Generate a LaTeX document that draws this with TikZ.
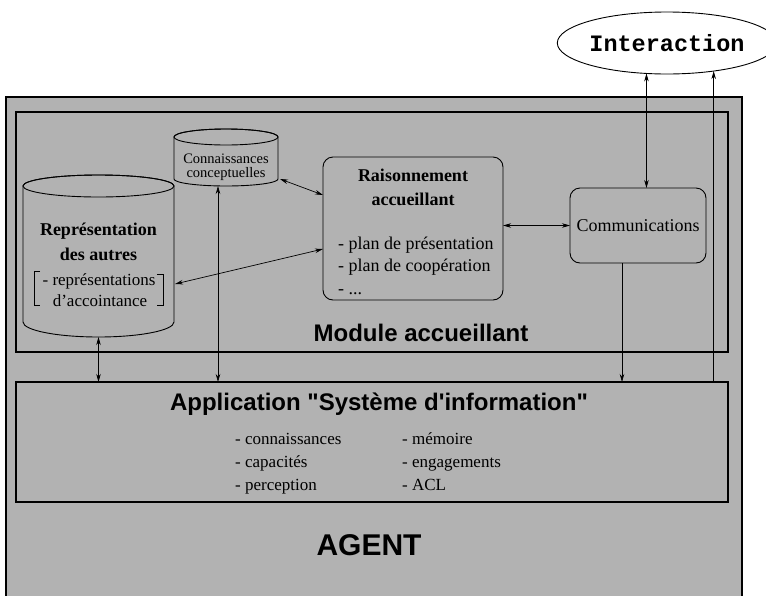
\documentclass[tikz,border=0pt]{standalone}
\usepackage{fontspec}
\setmainfont{Liberation Serif}
\newfontfamily\hvfont{Liberation Sans}
\newfontfamily\courfont{Liberation Mono}
\usetikzlibrary{arrows.meta,calc,shapes.geometric}
\definecolor{dith}{RGB}{178,178,178}
\begin{document}
\begin{tikzpicture}[x=1pt,y=-1pt,
  box/.style={draw, line width=1.1pt, fill=dith, inner sep=0pt, outer sep=0pt},
  rbox/.style={draw, line width=0.9pt, fill=dith, rounded corners=10pt, inner sep=0pt, outer sep=0pt},
  helper/.style={inner sep=0pt, outer sep=0pt},
  cyl/.style={draw, line width=0.9pt, fill=dith},
  conn/.style={line width=0.7pt},
  tip/.tip={Stealth[length=8pt,width=4.5pt]},
  arr/.style={conn, -tip},
  darr/.style={conn, tip-tip},
  ser/.style={font=\fontsize{18}{20}\selectfont},
  sers/.style={font=\fontsize{17}{19}\selectfont},
  serb/.style={font=\bfseries\fontsize{18}{20}\selectfont},
  item/.style={anchor=base west, inner sep=0pt},
  big/.style={font=\hvfont\bfseries\fontsize{24}{26}\selectfont}
]
\useasboundingbox (0,0) rectangle (766,595);
\clip (0,0) rectangle (766,595);

% main boxes
\node[box, line width=1.3pt, anchor=north west, minimum width=736pt, minimum height=520pt] (agent) at (6,97) {};
\node[box, anchor=north west, minimum width=712pt, minimum height=240pt] (module) at (16,112) {};
\node[box, anchor=north west, minimum width=712pt, minimum height=120pt] (app) at (16,382) {};

% interaction
\node[draw, ellipse, line width=0.9pt, fill=white, inner sep=0pt, outer sep=0pt,
      minimum width=192pt, minimum height=62pt,
      font=\courfont\bfseries\fontsize{23.5}{25}\selectfont] (inter) at (667,43) {Interaction};
\coordinate (i1) at (inter.-124.5);
\coordinate (i2) at (inter.-31.8);

% big cylinder
\node[helper, anchor=north west, minimum width=151pt, minimum height=136pt] (bcyl) at (23,186) {};
\draw[cyl] (bcyl.north west) -- (bcyl.south west)
   arc[start angle=180, end angle=0, x radius=75.5, y radius=15]
   -- (bcyl.north east)
   arc[start angle=0, end angle=-180, x radius=75.5, y radius=11] -- cycle;
\draw[line width=0.9pt] (bcyl.north) ellipse[x radius=75.5, y radius=11];

% small cylinder
\node[helper, anchor=north west, minimum width=104pt, minimum height=42pt] (ccyl) at (174,137) {};
\draw[cyl] (ccyl.north west) -- (ccyl.south west)
   arc[start angle=180, end angle=0, x radius=52, y radius=7]
   -- (ccyl.north east)
   arc[start angle=0, end angle=-180, x radius=52, y radius=8] -- cycle;
\draw[line width=0.9pt] (ccyl.north) ellipse[x radius=52, y radius=8];

% rounded boxes
\node[rbox, minimum width=180pt, minimum height=143pt] (rais) at (413,228.5) {};
\node[rbox, minimum width=136pt, minimum height=75pt, ser] (comm) at (638,225.5) {Communications};

% texts
\node[font=\fontsize{14.5}{16}\selectfont, align=center, inner sep=0pt] (cctext) at (226,167) {Connaissances\\[-1.5pt]conceptuelles};
\node[serb] (rep1) at (98.5,231) {Représentation};
\node[serb] (rep2) at (98.5,254) {des autres};
\node[sers, anchor=base, inner sep=0pt] (rep3) at (99,285) {- représentations};
\node[sers, anchor=base, inner sep=0pt] (rep4) at (100,306) {d'accointance};
\draw[line width=0.8pt] (40,271) -- (34,271) -- (34,305) -- (40,305);
\draw[line width=0.8pt] (157,274) -- (163,274) -- (163,305) -- (157,305);

\node[serb] (r1) at (413,175) {Raisonnement};
\node[serb] (r2) at (413,199) {accueillant};
\node[ser, item] (r3) at (338,249) {- plan de présentation};
\node[ser, item] (r4) at (338,271) {- plan de coopération};
\node[ser, item] (r5) at (338,294) {- ...};

\node[big] (modtext) at (421,333) {Module accueillant};
\node[big] (apptext) at (379,404) {Application "Système d'information"};
\node[font=\hvfont\bfseries\fontsize{30}{32}\selectfont] (agenttext) at (369,545) {AGENT};

\node[sers, item] (a1) at (235,444) {- connaissances};
\node[sers, item] (a2) at (235,467) {- capacités};
\node[sers, item] (a3) at (235,490) {- perception};
\node[sers, item] (a4) at (402,444) {- mémoire};
\node[sers, item] (a5) at (402,467) {- engagements};
\node[sers, item] (a6) at (402,490) {- ACL};

% connectors
\coordinate (c1) at ($(comm.south)+(-16,0)$);
\coordinate (cb) at ($(ccyl.south)+(-8,7)$);
\coordinate (bb) at ($(bcyl.south)+(0,15)$);
\coordinate (re) at ($(bcyl.north east)+(1,98)$);
\coordinate (rw1) at ($(rais.north west)+(0,38)$);
\coordinate (rw2) at ($(rais.north west)+(0,92)$);
\coordinate (ce) at ($(ccyl.south east)+(2,0)$);

\draw[darr] (i1) -- (i1 |- comm.north);
\draw[arr] (i2 |- app.north) -- (i2);
\draw[arr] (c1) -- (c1 |- app.north);
\draw[darr] (rais.east |- comm.west) -- (comm.west);
\draw[darr] (ce) -- (rw1);
\draw[darr] (re) -- (rw2);
\draw[darr] (cb) -- (cb |- app.north);
\draw[darr] (bb) -- (bb |- app.north);
\end{tikzpicture}
\end{document}
